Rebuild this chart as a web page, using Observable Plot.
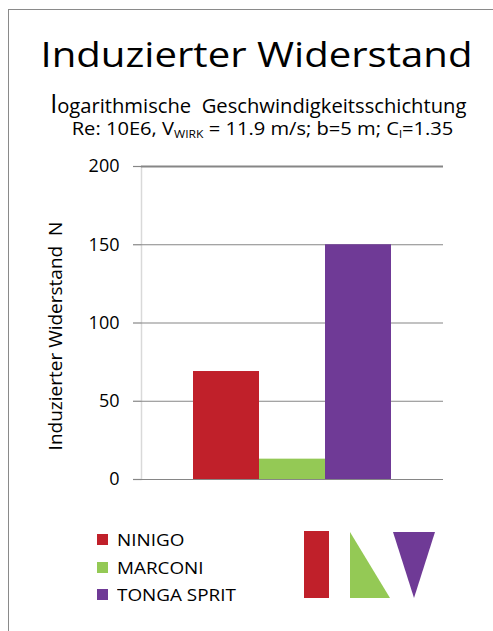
<!DOCTYPE html>
<html><head><meta charset="utf-8">
<script src="https://cdn.jsdelivr.net/npm/d3@7"></script>
<script src="https://cdn.jsdelivr.net/npm/@observablehq/plot@0.6"></script>
<style>
body{margin:0;background:#fff;font-family:"Open Sans",sans-serif;color:#000}
#page{position:relative;width:493px;height:631px;overflow:hidden;background:#fff}
#frame{position:absolute;left:8px;top:9px;width:700px;height:800px;border-left:1.5px solid #8a8a8a;border-top:1.5px solid #8a8a8a}
.t{position:absolute;width:493px;text-align:center;line-height:1;white-space:nowrap;transform-origin:center}
#chart{position:absolute;left:0;top:150px}
#legend{position:absolute;left:97px;top:531px;font-size:17px}
.row{display:flex;align-items:center;height:17px;line-height:17px;margin-bottom:10.7px}
.sw{width:11px;height:11px;margin-right:9px}
.row span{display:inline-block;transform:scaleX(1.11);transform-origin:left center}
#logo{position:absolute;left:0;top:0}
sub{font-size:0.6em;vertical-align:-0.25em;line-height:0}
</style></head><body>
<div id="page">
<div id="frame"></div>
<div class="t" style="left:10px;top:37px;font-size:34px;transform:scaleX(1.18)">Induzierter Widerstand</div>
<div class="t" style="left:12px;top:97px;font-size:19.5px;line-height:0.9;transform:scaleX(1.035)"><span style="font-size:25px;line-height:0">l</span>ogarithmische&nbsp; Geschwindigkeitsschichtung</div>
<div class="t" style="left:16px;top:120px;font-size:17.5px;line-height:0.95;transform:scaleX(1.15)">Re: 10E6, V<sub>WIRK</sub> = 11.9 m/s; b=5 m; C<sub>l</sub>=1.35</div>
<div id="chart"></div>
<div id="legend"></div>
<svg id="logo" width="493" height="631" style="pointer-events:none">
  <rect x="304" y="531" width="25" height="67" fill="#C0202A"/>
  <polygon points="350,532 350,598 390,598" fill="#94C955"/>
  <polygon points="393,532 435,532 414,598" fill="#6F3A96"/>
</svg>
</div>
<script>
const series = ["NINIGO", "MARCONI", "TONGA SPRIT"];
const values = [69, 13, 150];
const colors = ["#C0202A", "#94C955", "#6F3A96"];
const yTicks = [0, 50, 100, 150, 200];
const yLabel = "Induzierter Widerstand  N";

const data = series.map((s, i) => ({series: s, value: values[i]}));

const chart = Plot.plot({
  width: 493,
  height: 350,
  marginTop: 16,
  marginBottom: 21,
  marginLeft: 141,
  marginRight: 50,
  style: {fontFamily: "Open Sans", fontSize: "18px", overflow: "visible", background: "transparent", color: "#000"},
  x: {domain: series, paddingInner: 0, paddingOuter: 0.754, axis: null},
  y: {domain: [0, 200]},
  color: {domain: series, range: colors},
  marks: [
    Plot.frame({anchor: "left", stroke: "#d9d9d9", strokeWidth: 1.5}),
    Plot.ruleY(yTicks, {stroke: "#868686", strokeWidth: d => d === 200 ? 2 : 1.2}),
    Plot.barY(data, {x: "series", y: "value", fill: "series"}),
    Plot.axisY({ticks: yTicks, tickSize: 8, tickPadding: 14, stroke: "#868686", strokeWidth: 1.2,
      label: null, fontSize: 18}),
    Plot.text([yLabel], {frameAnchor: "left", textAnchor: "middle", rotate: -90, dx: -86, dy: 13, fontSize: 19, fill: "#000"})
  ]
});
document.getElementById("chart").appendChild(chart);

const legend = document.getElementById("legend");
series.forEach((s, i) => {
  const row = document.createElement("div");
  row.className = "row";
  const sw = document.createElement("div");
  sw.className = "sw";
  sw.style.background = colors[i];
  const tx = document.createElement("span");
  tx.textContent = s;
  row.appendChild(sw);
  row.appendChild(tx);
  legend.appendChild(row);
});
</script>
</body></html>
